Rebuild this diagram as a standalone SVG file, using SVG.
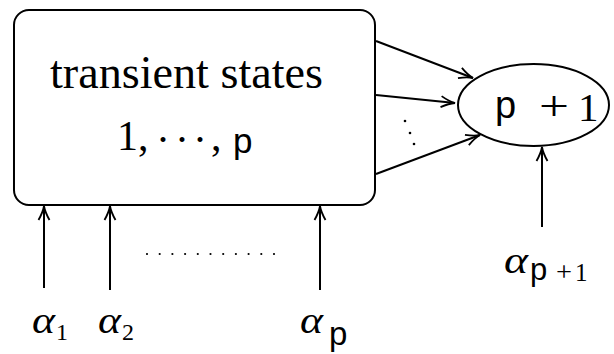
<svg xmlns="http://www.w3.org/2000/svg" width="614" height="354" viewBox="0 0 614 354">
<defs>
<marker id="ah" viewBox="-15 -7 17 14" markerWidth="17" markerHeight="14" refX="0" refY="0" orient="auto" markerUnits="userSpaceOnUse">
<path d="M-14,-5.5 Q-6,-1 0,0 Q-6,1 -14,5.5" fill="none" stroke="#000" stroke-width="1.8"/>
</marker>
<style>
.ln{fill:none;stroke:#000;stroke-width:2}
.arr{fill:none;stroke:#000;stroke-width:2;marker-end:url(#ah)}
.serif{font-family:"Liberation Serif","DejaVu Serif",serif;fill:#000}
.sans{font-family:"Liberation Sans","DejaVu Sans",sans-serif;fill:#000}
.it{font-style:italic}
</style>
</defs>
<rect width="614" height="354" fill="#fff"/>
<g id="transient">
<rect class="ln" x="14" y="10" width="361" height="195" rx="15" ry="15"/>
<text class="serif" x="50" y="88" font-size="46" textLength="273" lengthAdjust="spacingAndGlyphs">transient states</text>
<text class="serif" x="117" y="150" font-size="42">1,<tspan x="156" y="154">·</tspan><tspan x="175" y="154">·</tspan><tspan x="193" y="154">·</tspan><tspan x="211" y="150">,</tspan><tspan class="sans" x="233" y="153" font-size="35">p</tspan></text>
</g>
<g id="absorbing">
<ellipse class="ln" cx="533.5" cy="105" rx="75.5" ry="41"/>
<text class="sans" x="495" y="118" font-size="38">p</text>
<text class="serif" x="539" y="120" font-size="42" textLength="30" lengthAdjust="spacingAndGlyphs">+</text>
<text class="serif" x="578" y="121" font-size="41">1</text>
</g>
<g id="connectors">
<line class="arr" x1="376" y1="41" x2="473" y2="78"/>
<line class="arr" x1="376" y1="95" x2="455" y2="103"/>
<line class="arr" x1="376" y1="174" x2="480" y2="135"/>
<g fill="#000"><circle cx="405" cy="121" r="1.3"/><circle cx="410" cy="133" r="1.3"/><circle cx="414" cy="144" r="1.3"/></g>
<line class="arr" x1="44" y1="288" x2="44" y2="206"/>
<line class="arr" x1="110" y1="290" x2="110" y2="206"/>
<line class="arr" x1="320" y1="290" x2="320" y2="206"/>
<line class="arr" x1="542" y1="227" x2="542" y2="147"/>
<line x1="147" y1="254" x2="275" y2="254" stroke="#000" stroke-width="2.2" stroke-linecap="round" stroke-dasharray="0 12.7"/>
</g>
<g id="labels">
<text class="serif it" x="32" y="333" font-size="38" textLength="23" lengthAdjust="spacingAndGlyphs">α</text>
<text class="serif" x="56" y="340" font-size="24">1</text>
<text class="serif it" x="98" y="333" font-size="38" textLength="23" lengthAdjust="spacingAndGlyphs">α</text>
<text class="serif" x="122" y="340" font-size="24">2</text>
<text class="serif it" x="300" y="333" font-size="38" textLength="23" lengthAdjust="spacingAndGlyphs">α</text>
<text class="sans" x="329" y="345" font-size="33">p</text>
<text class="serif it" x="504" y="273" font-size="38" textLength="24" lengthAdjust="spacingAndGlyphs">α</text>
<text class="sans" x="530" y="280" font-size="31">p</text>
<text class="serif" x="556" y="281" font-size="28" textLength="16" lengthAdjust="spacingAndGlyphs">+</text>
<text class="serif" x="575" y="281" font-size="25">1</text>
</g>
</svg>
